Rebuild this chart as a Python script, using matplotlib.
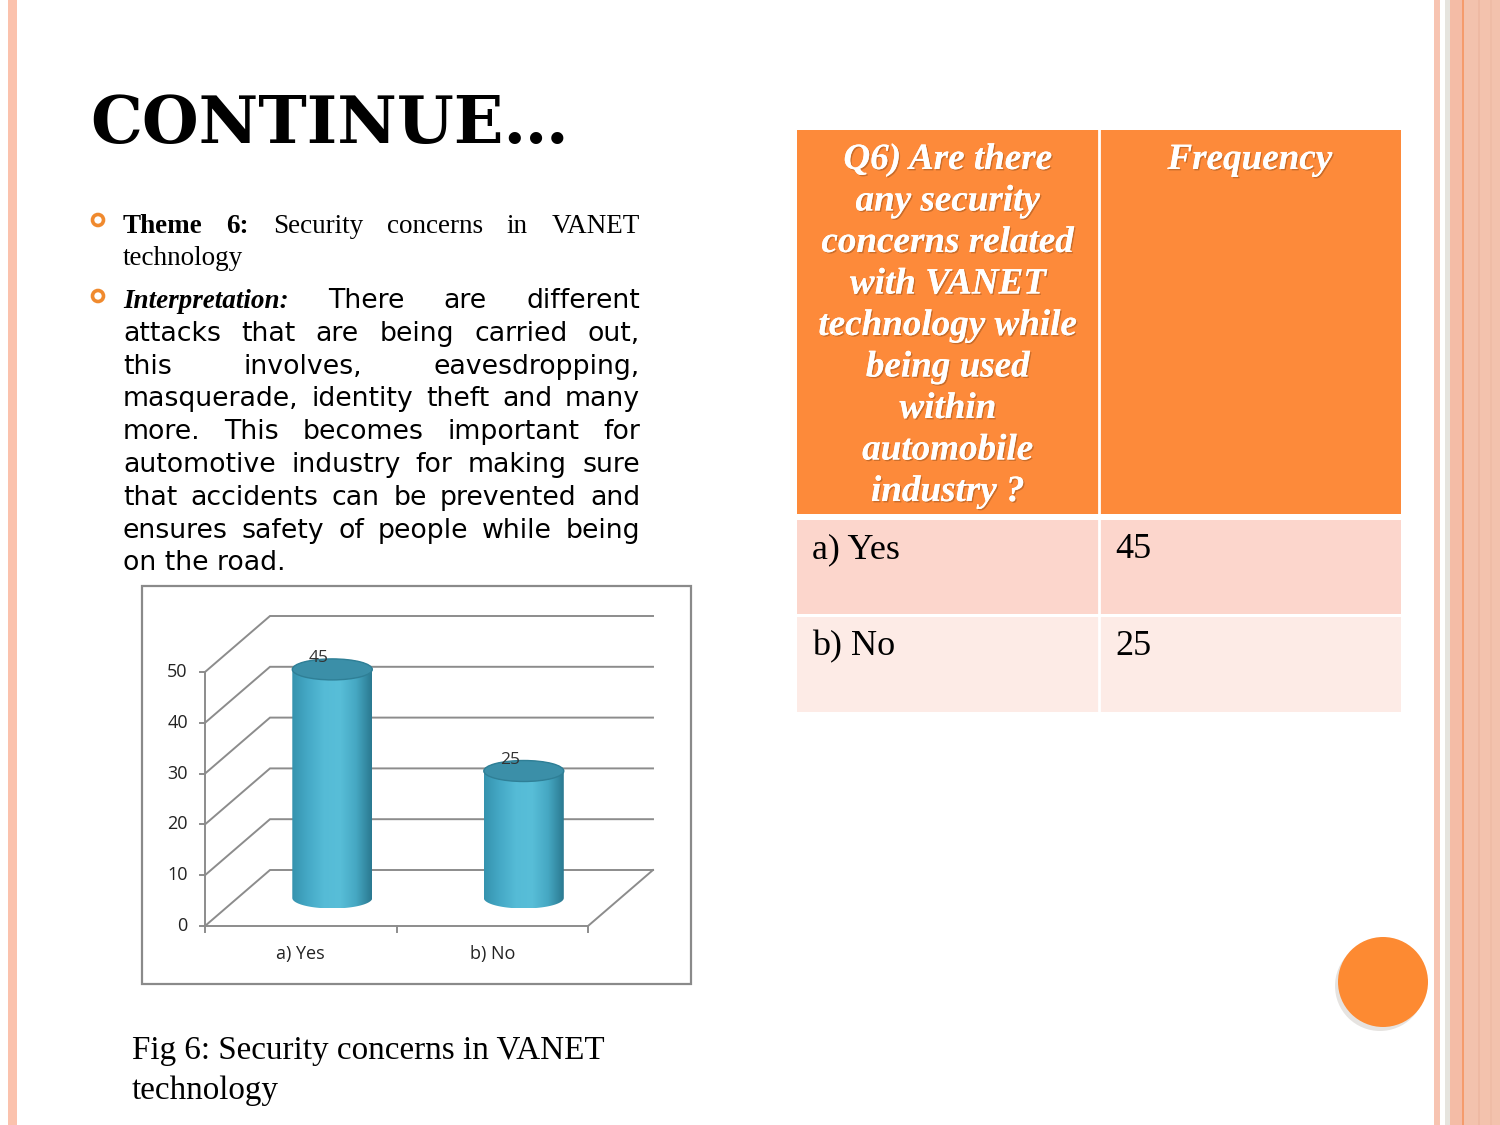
import matplotlib
matplotlib.use("Agg")
import matplotlib.pyplot as plt
import numpy as np
from matplotlib.patches import Rectangle, Circle, Ellipse, Polygon
from matplotlib.colors import LinearSegmentedColormap
import matplotlib.patheffects as pe

# ---------------- data ----------------
categories = ['a) Yes', 'b) No']
frequency = [45, 25]
y_ticks = [0, 10, 20, 30, 40, 50]
title = 'CONTINUE\u2026'
question_lines = ['Q6) Are there', 'any security', 'concerns related', 'with VANET',
                  'technology while', 'being used', 'within', 'automobile', 'industry ?']
freq_header = 'Frequency'
caption_lines = ['Fig 6: Security concerns in VANET', 'technology']
theme_lines = [[('Theme', 'b'), ('6:', 'b'), ('Security', 'r'), ('concerns', 'r'), ('in', 'r'), ('VANET', 'r')]]
theme_last = 'technology'
interp_lines = [
    [('Interpretation:', 'bi'), ('There', 's'), ('are', 's'), ('different', 's')],
    'attacks that are being carried out,',
    'this involves, eavesdropping,',
    'masquerade, identity theft and many',
    'more. This becomes important for',
    'automotive industry for making sure',
    'that accidents can be prevented and',
    'ensures safety of people while being',
]
interp_last = 'on the road.'

W, H = 1500, 1125
fig = plt.figure(figsize=(15, 11.25), dpi=100)
fig.patch.set_facecolor('white')
bg = fig.add_axes([0, 0, 1, 1])
bg.set_xlim(0, W)
bg.set_ylim(H, 0)
bg.axis('off')
renderer = fig.canvas.get_renderer()

SERIF = ['Liberation Serif', 'DejaVu Serif']
SANS = ['DejaVu Sans']
NARROW = ['Liberation Sans Narrow', 'Open Sans', 'DejaVu Sans']

# ---------------- slide decoration ----------------
bg.add_patch(Rectangle((8, 0), 9, H, color='#fbc2ad', lw=0))
for x0, w, c in [(1434, 6, '#f7c4b1'), (1440, 5, '#ffffff'), (1445, 5, '#e6e4de'),
                 (1450, 12, '#f4bca6'), (1462, 2, '#f59b6c'), (1464, 36, '#f3c2ad'),
                 (1478, 2, '#eeb9a3'), (1490, 2, '#efbca6')]:
    bg.add_patch(Rectangle((x0, 0), w, H, color=c, lw=0))

# title
bg.text(90, 143, title, fontsize=47, fontweight='bold', family=['DejaVu Serif'],
        va='baseline', ha='left', color='black')

# bullets
for by in (220, 296):
    bg.add_patch(Circle((98, by), 5.5, facecolor='none', edgecolor='#f08a2e', lw=2.6))

STY = {
    'b': dict(family=SERIF, fontweight='bold', fontsize=19.5),
    'r': dict(family=SERIF, fontsize=19.5),
    'bi': dict(family=SERIF, fontweight='bold', fontstyle='italic', fontsize=19.5),
    's': dict(family=SANS, fontsize=19.3),
}


def justify(segs, x0, x1, y):
    texts = [bg.text(0, y, w, va='baseline', ha='left', color='black', **STY[s]) for w, s in segs]
    widths = [t.get_window_extent(renderer).width for t in texts]
    gap = (x1 - x0 - sum(widths)) / max(len(texts) - 1, 1)
    x = x0
    for t, w in zip(texts, widths):
        t.set_x(x)
        x += w + gap


X0, X1 = 123, 640
justify(theme_lines[0], X0, X1, 233)
bg.text(X0, 265, theme_last, va='baseline', ha='left', color='black', **STY['r'])

y = 308
for line in interp_lines:
    if isinstance(line, str):
        segs = [(w, 's') for w in line.split()]
    else:
        segs = line
    justify(segs, X0, X1, y)
    y += 32.8
bg.text(X0, y, interp_last, va='baseline', ha='left', color='black', **STY['s'])

# caption
for i, ln in enumerate(caption_lines):
    bg.text(132, 1059 + 39.5 * i, ln, family=SERIF, fontsize=23.9, va='baseline', ha='left', color='black')

# ---------------- table ----------------
TL, TM, TR = 797, 1099, 1401
bg.add_patch(Rectangle((TL, 130), TR - TL, 514 - 130, color='#fd8a3a', lw=0))
row_bounds = [(520, 614), (617, 712)]
row_cols = ['#fcd6cc', '#fdebe6']
for (r0, r1), c in zip(row_bounds, row_cols):
    bg.add_patch(Rectangle((TL, r0), TR - TL, r1 - r0, color=c, lw=0))
bg.plot([TM, TM], [130, 712], color='white', lw=2)

shadow = [pe.withSimplePatchShadow(offset=(1, -1), shadow_rgbFace='#8a4a1a', alpha=0.45), pe.Normal()]
hdr = dict(family=SERIF, fontweight='bold', fontstyle='italic', fontsize=26.7, color='white',
           va='baseline', ha='center')
for i, ln in enumerate(question_lines):
    t = bg.text((TL + TM) / 2, 169 + 41.5 * i, ln, **hdr)
    t.set_path_effects(shadow)
t = bg.text((TM + TR) / 2, 169, freq_header, **hdr)
t.set_path_effects(shadow)

for (r0, r1), cat, val in zip(row_bounds, categories, frequency):
    bg.text(812, r0 + 38, cat, family=SERIF, fontsize=26, va='baseline', ha='left', color='black')
    bg.text(1115, r0 + 38, str(val), family=SERIF, fontsize=26, va='baseline', ha='left', color='black')

# orange circle
bg.add_patch(Circle((1380, 986), 45, color='#b8b0a8', alpha=0.35, lw=0))
bg.add_patch(Circle((1383, 982), 45, color='#fd8a32', lw=0))

# ---------------- chart ----------------
FX0, FY0, FX1, FY1 = 142, 586, 691, 984
bg.add_patch(Rectangle((FX0, FY0), FX1 - FX0, FY1 - FY0, facecolor='white', edgecolor='#8a8a8a', lw=1.6, zorder=1))

ox, oy = 205, 926          # pixel position of origin
px_x = (588 - 205) / 2.0   # pixels per category
px_y = (926 - 672) / 50.0  # pixels per value unit
ax = fig.add_axes([FX0 / W, (H - FY1) / H, (FX1 - FX0) / W, (FY1 - FY0) / H])
ax.set_facecolor('none')
ax.axis('off')
xlim = ((FX0 - ox) / px_x, (FX1 - ox) / px_x)
ylim = ((oy - FY1) / px_y, (oy - FY0) / px_y)

n = len(categories)
dx = 65 / px_x             # depth offset in data units
dy = 56 / px_y
gc = '#8c8c8c'
ymax = max(y_ticks)
# walls
for v in y_ticks:
    ax.plot([0, dx, n + dx], [v, v + dy, v + dy], color=gc, lw=1.4, solid_joinstyle='miter')
    ax.plot([-0.025, 0], [v, v], color=gc, lw=1.4)
    ax.text(-0.09, v, str(v), ha='right', va='center', fontsize=13, family=NARROW, color='#222222')
ax.plot([0, 0], [0, ymax], color=gc, lw=1.4)
ax.plot([0, n, n + dx], [0, 0, dy], color=gc, lw=1.4)
for i in range(n + 1):
    ax.plot([i, i], [0, -1.2], color=gc, lw=1.4)
for i, c in enumerate(categories):
    ax.text(i + 0.5, -5.5, c, ha='center', va='center', fontsize=13, family=NARROW, color='#222222')

cmap = LinearSegmentedColormap.from_list('cyl', ['#3593ae', '#45a9c6', '#55bbd6', '#58bed8', '#46a8c3', '#2a7890'])
half_w = 40 / px_x
ell_h = 10.5 / px_y
for i, v in enumerate(frequency):
    cx = i + 0.5 + dx / 2 - 0.005
    base = dy / 2
    top = v + dy / 2
    th_b = np.linspace(np.pi, 2 * np.pi, 60)
    th_t = np.linspace(0, np.pi, 60)
    pts = np.vstack([
        np.column_stack([cx + half_w * np.cos(th_b), base + ell_h * np.sin(th_b)]),
        np.column_stack([cx + half_w * np.cos(th_t), top + ell_h * np.sin(th_t)]),
    ])
    poly = Polygon(pts, closed=True, facecolor='none', edgecolor='none')
    ax.add_patch(poly)
    grad = np.linspace(0, 1, 256).reshape(1, -1)
    im = ax.imshow(grad, cmap=cmap, aspect='auto', interpolation='bilinear',
                   extent=(cx - half_w, cx + half_w, base - ell_h, top + ell_h), zorder=3)
    im.set_clip_path(poly)
    ax.add_patch(Ellipse((cx, top), 2 * half_w, 2 * ell_h, facecolor='#3b8fa8',
                         edgecolor='#2f7f96', lw=1.0, zorder=4))
    ax.text(cx - 14 / px_x, top + 2.2, str(v), ha='center', va='center', fontsize=12.5,
            family=NARROW, color='#333333', zorder=5)

ax.set_xlim(*xlim)
ax.set_ylim(*ylim)

fig.savefig('out.png', dpi=100, facecolor='white')
